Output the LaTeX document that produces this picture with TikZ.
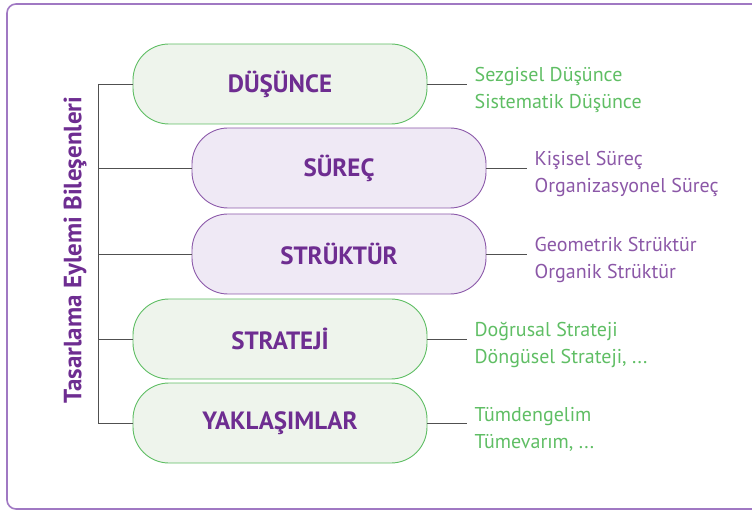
\documentclass[tikz,border=0pt]{standalone}
\usepackage{fontspec}
\setmainfont{PT Sans}
\usetikzlibrary{positioning}

\definecolor{tepurple}{RGB}{110,45,145}
\definecolor{teframe}{RGB}{160,120,195}
\definecolor{tegreen}{RGB}{95,190,100}
\definecolor{tegreenfill}{RGB}{238,244,236}
\definecolor{tepurpleline}{RGB}{140,90,170}
\definecolor{tepurplefill}{RGB}{239,233,245}
\definecolor{telink}{RGB}{80,80,80}

\tikzset{
  pill/.style={rounded corners=36pt, minimum width=294pt, minimum height=80pt,
    font=\fontsize{25}{28}\selectfont\bfseries, text=tepurple, line width=0.9pt},
  greenpill/.style={pill, draw=tegreen, fill=tegreenfill},
  purplepill/.style={pill, draw=tepurpleline, fill=tepurplefill},
  sublabel/.style={anchor=west, align=left, inner sep=7pt, yshift=-6pt,
    font=\fontsize{20}{27}\selectfont},
  link/.style={draw=telink, line width=0.8pt}
}

\begin{document}
\begin{tikzpicture}[x=1pt, y=-1pt]
\useasboundingbox (0,0) rectangle (752,510);

% Frame
\draw[teframe, line width=1.6pt, rounded corners=9pt] (7,4) rectangle (775,509);

% Title
\node[rotate=90, font=\fontsize{25}{28}\selectfont\bfseries, text=tepurple] (title) at (75,250) {Tasarlama Eylemi Bileşenleri};

% Boxes
\node[greenpill] (dusunce) at (280,84) {DÜŞÜNCE};
\node[purplepill] (surec) at (339,168) {SÜREÇ};
\node[purplepill] (struktur) at (339,254) {STRÜKTÜR};
\node[greenpill] (strateji) at (280,339) {STRATEJİ};
\node[greenpill] (yaklasim) at (280,423) {YAKLAŞIMLAR};

% Spine
\coordinate (spinetop) at (98,84);
\coordinate (spinebot) at (98,423);
\draw[link] (spinetop) -- (spinebot);
\draw[link] (spinetop) -- (dusunce.west);
\draw[link] (spinetop |- surec.west) -- (surec.west);
\draw[link] (spinetop |- struktur.west) -- (struktur.west);
\draw[link] (spinetop |- strateji.west) -- (strateji.west);
\draw[link] (spinebot) -- (yaklasim.west);

% Sub labels
\node[sublabel, text=tegreen, right=40pt of dusunce.east] (dusuncesub) {Sezgisel Düşünce\\Sistematik Düşünce};
\node[sublabel, text=tepurple!80, right=41pt of surec.east] (surecsub) {Kişisel Süreç\\Organizasyonel Süreç};
\node[sublabel, text=tepurple!80, right=41pt of struktur.east] (strukturSub) {Geometrik Strüktür\\Organik Strüktür};
\node[sublabel, text=tegreen, right=40pt of strateji.east] (stratejisub) {Doğrusal Strateji\\Döngüsel Strateji, ...};
\node[sublabel, text=tegreen, right=40pt of yaklasim.east] (yaklasimsub) {Tümdengelim\\Tümevarım, ...};

\draw[link] (dusunce.east) -- (dusunce.east -| dusuncesub.west);
\draw[link] (surec.east) -- (surec.east -| surecsub.west);
\draw[link] (struktur.east) -- (struktur.east -| strukturSub.west);
\draw[link] (strateji.east) -- (strateji.east -| stratejisub.west);
\draw[link] (yaklasim.east) -- (yaklasim.east -| yaklasimsub.west);

\end{tikzpicture}
\end{document}
